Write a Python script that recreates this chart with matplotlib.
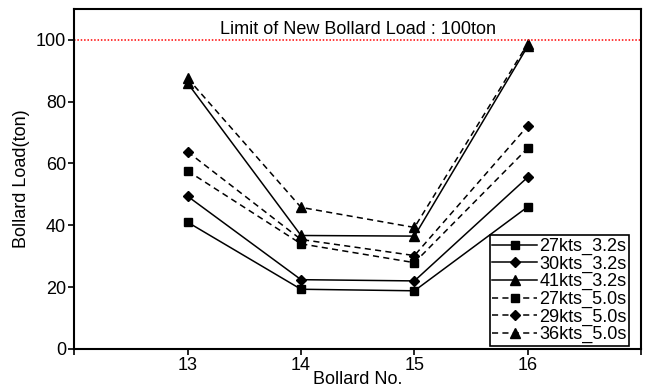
import numpy as np
import matplotlib.pyplot as plt

plt.rcParams['font.family'] = ['Liberation Sans', 'DejaVu Sans']

bollards = [13, 14, 15, 16]

labels = ["27kts_3.2s", "30kts_3.2s", "41kts_3.2s",
          "27kts_5.0s", "29kts_5.0s", "36kts_5.0s"]
load_27_32 = [41.0, 19.3, 18.8, 46.0]
load_30_32 = [49.4, 22.4, 22.0, 55.6]
load_41_32 = [86.0, 36.7, 36.5, 98.0]
load_27_50 = [57.6, 34.0, 27.9, 65.0]
load_29_50 = [63.8, 35.4, 30.2, 72.2]
load_36_50 = [87.6, 45.8, 39.3, 98.8]

limit = 100

series = [load_27_32, load_30_32, load_41_32, load_27_50, load_29_50, load_36_50]
markers = ["s", "D", "^", "s", "D", "^"]
msizes = [6, 5, 7, 6, 5, 7]
dash = (0, (4, 2.8))
styles = ["-", "-", "-", dash, dash, dash]

fig, ax = plt.subplots(figsize=(6.51, 3.92), dpi=100)
fig.subplots_adjust(left=0.114, right=0.985, top=0.977, bottom=0.11)

for vals, lab, m, ms, ls in zip(series, labels, markers, msizes, styles):
    ax.plot(bollards, vals, linestyle=ls, marker=m, markersize=ms,
            color="black", linewidth=1.1, label=lab)

ax.axhline(limit, color="red", linestyle=(0, (1, 1.2)), linewidth=1.1)
ax.text(14.5, 100.6, "Limit of New Bollard Load : 100ton",
        ha="center", va="bottom", fontsize=13)

ax.set_xlim(12, 17)
ax.set_ylim(0, 110)
ax.set_xticks([12, 13, 14, 15, 16, 17])
ax.set_xticklabels(["", "13", "14", "15", "16", ""])
ax.set_yticks([0, 20, 40, 60, 80, 100])
ax.tick_params(labelsize=13, direction="out", length=4, width=1.2, pad=2)
for sp in ax.spines.values():
    sp.set_linewidth(1.5)

ax.set_xlabel("Bollard No.", fontsize=13, labelpad=-2)
ax.set_ylabel("Bollard Load(ton)", fontsize=13, labelpad=4)

leg = ax.legend(loc="lower right", bbox_to_anchor=(0.979, 0.009),
                fontsize=13, handlelength=2.5,
                fancybox=False, edgecolor="black", framealpha=1,
                borderpad=0.15, labelspacing=0.02, handletextpad=0.1,
                borderaxespad=0)
leg.get_frame().set_linewidth(1.2)

fig.savefig("out.png", dpi=100)
